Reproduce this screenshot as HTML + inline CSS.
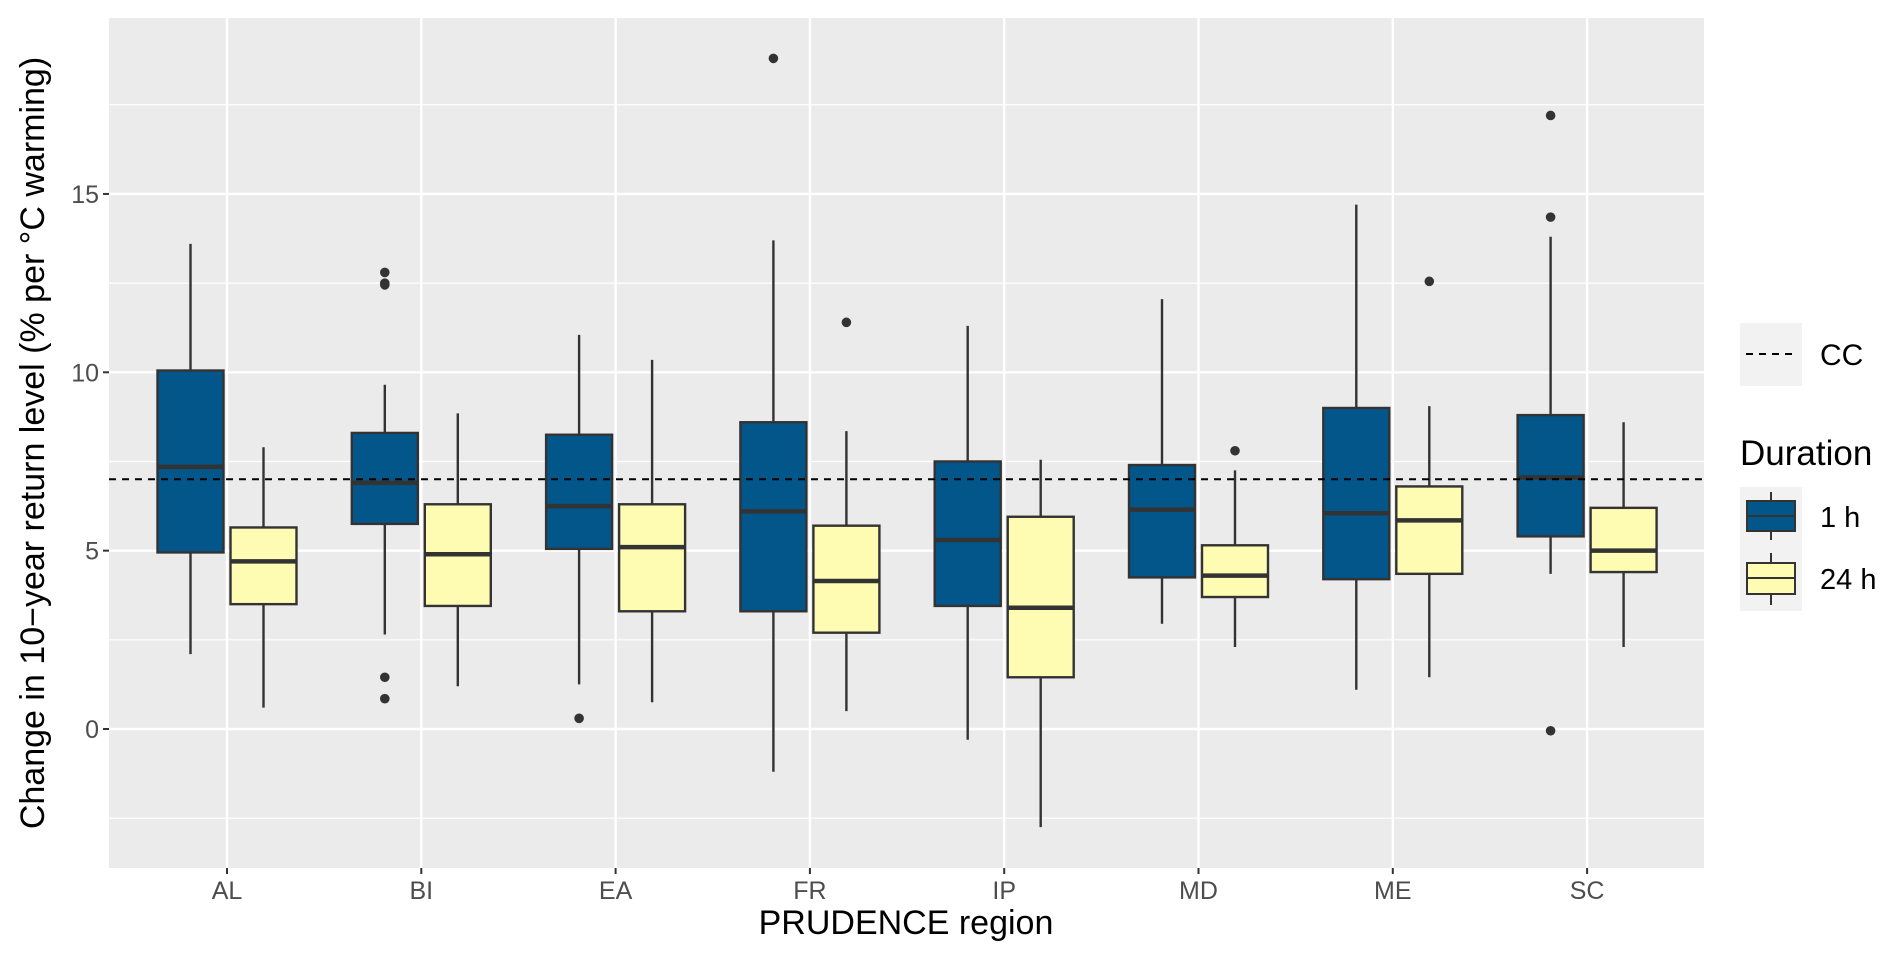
<!DOCTYPE html>
<html><head><meta charset="utf-8"><style>
body{margin:0;background:#fff;font-family:"Liberation Sans",sans-serif;}
</style></head><body>
<svg id="chart" width="1892" height="960" xmlns="http://www.w3.org/2000/svg">
<rect x="0" y="0" width="1892" height="960" fill="#fff"/>
<rect x="109" y="18" width="1595" height="850" fill="#ebebeb"/>
<g id="grid"></g>
<g id="marks"></g>
<g id="axes"></g>
<text x="906" y="934" text-anchor="middle" font-size="34" fill="#000">PRUDENCE region</text>
<text transform="translate(44,443) rotate(-90)" text-anchor="middle" font-size="34" fill="#000">Change in 10−year return level (% per °C warming)</text>
<g>
<rect x="1740" y="323" width="62" height="63" fill="#f2f2f2"/>
<line x1="1746" y1="354" x2="1796" y2="354" stroke="#000" stroke-width="2" stroke-dasharray="7,6"/>
<text x="1820" y="365" font-size="30" fill="#000">CC</text>
<text x="1740" y="465" font-size="35" fill="#000">Duration</text>
<rect x="1740" y="487" width="62" height="124" fill="#f2f2f2"/>
<g>
<line x1="1771" y1="492" x2="1771" y2="540" stroke="#333" stroke-width="2"/>
<rect x="1747" y="501" width="48" height="30" fill="#03568a" stroke="#333" stroke-width="2"/>
<line x1="1747" y1="516" x2="1795" y2="516" stroke="#333" stroke-width="2"/>
<text x="1820" y="527" font-size="29" fill="#000">1 h</text>
</g>
<g>
<line x1="1771" y1="553" x2="1771" y2="605" stroke="#333" stroke-width="2"/>
<rect x="1747" y="563" width="48" height="31" fill="#fdfcb2" stroke="#333" stroke-width="2"/>
<line x1="1747" y1="578" x2="1795" y2="578" stroke="#333" stroke-width="2"/>
<text x="1820" y="589" font-size="29" fill="#000">24 h</text>
</g>
</g>
</svg>
<script>
const regions=["AL","BI","EA","FR","IP","MD","ME","SC"];
// [whiskerLow, q1, median, q3, whiskerHigh]
const stats1h=[[2.1,4.95,7.35,10.05,13.6],[2.65,5.75,6.9,8.3,9.65],[1.25,5.05,6.25,8.25,11.05],[-1.2,3.3,6.1,8.6,13.7],[-0.3,3.45,5.3,7.5,11.3],[2.95,4.25,6.15,7.4,12.05],[1.1,4.2,6.05,9.0,14.7],[4.35,5.4,7.05,8.8,13.8]];
const stats24h=[[0.6,3.5,4.7,5.65,7.9],[1.2,3.45,4.9,6.3,8.85],[0.75,3.3,5.1,6.3,10.35],[0.5,2.7,4.15,5.7,8.35],[-2.75,1.45,3.4,5.95,7.55],[2.3,3.7,4.3,5.15,7.25],[1.45,4.35,5.85,6.8,9.05],[2.3,4.4,5.0,6.2,8.6]];
const outliers1h=[[],[12.8,12.5,12.45,1.45,0.85],[0.3],[18.8],[],[],[],[17.2,14.35,-0.05]];
const outliers24h=[[],[],[],[11.4],[],[7.8],[12.55],[]];
const ccValue=7.0;
const yTicks=[0,5,10,15];
const yMinor=[-2.5,2.5,7.5,12.5,17.5];

const NS="http://www.w3.org/2000/svg";
const y=v=>729-v*35.67;
const x=i=>227+i*194.3;
function mk(tag,attrs,parent){const e=document.createElementNS(NS,tag);for(const k in attrs)e.setAttribute(k,attrs[k]);parent.appendChild(e);return e;}
const grid=document.getElementById('grid'),marks=document.getElementById('marks'),axes=document.getElementById('axes');
yMinor.forEach(v=>{const l=mk('line',{x1:109,x2:1704,y1:y(v),y2:y(v),stroke:'#fff','stroke-width':1.2},grid);

});
yTicks.forEach(v=>{const l=mk('line',{x1:109,x2:1704,y1:y(v),y2:y(v),stroke:'#fff','stroke-width':2.4},grid);


const t=mk('line',{x1:103,x2:109,y1:y(v),y2:y(v),stroke:'#333','stroke-width':2},axes);


const tx=mk('text',{x:99,y:y(v)+9,'text-anchor':'end','font-size':25,fill:'#4d4d4d'},axes);tx.textContent=v;

});
regions.forEach((r,i)=>{const l=mk('line',{x1:x(i),x2:x(i),y1:18,y2:868,stroke:'#fff','stroke-width':2.4},grid);


const t=mk('line',{x1:x(i),x2:x(i),y1:868,y2:874,stroke:'#333','stroke-width':2},axes);


const tx=mk('text',{x:x(i),y:899,'text-anchor':'middle','font-size':25,fill:'#4d4d4d'},axes);tx.textContent=r;

});
function box(cx,s,outs,fill,name){
 const g=mk('g',{},marks);
 
 
 mk('line',{x1:cx,x2:cx,y1:y(s[4]),y2:y(s[0]),stroke:'#333','stroke-width':2.4},g);
 mk('rect',{x:cx-33,y:y(s[3]),width:66,height:y(s[1])-y(s[3]),fill:fill,stroke:'#333','stroke-width':2.4},g);
 mk('line',{x1:cx-33,x2:cx+33,y1:y(s[2]),y2:y(s[2]),stroke:'#333','stroke-width':4.5},g);
 outs.forEach(o=>{const c=mk('circle',{cx:cx,cy:y(o),r:4.8,fill:'#333'},g);
 
 });
}
regions.forEach((r,i)=>{
 box(x(i)-36.5,stats1h[i],outliers1h[i],'#03568a','box-'+r.toLowerCase()+'-1h');
 box(x(i)+36.5,stats24h[i],outliers24h[i],'#fdfcb2','box-'+r.toLowerCase()+'-24h');
});
const cc=mk('line',{x1:109,x2:1704,y1:y(ccValue),y2:y(ccValue),stroke:'#000','stroke-width':2,'stroke-dasharray':'7,6'},marks);


</script>
</body></html>
